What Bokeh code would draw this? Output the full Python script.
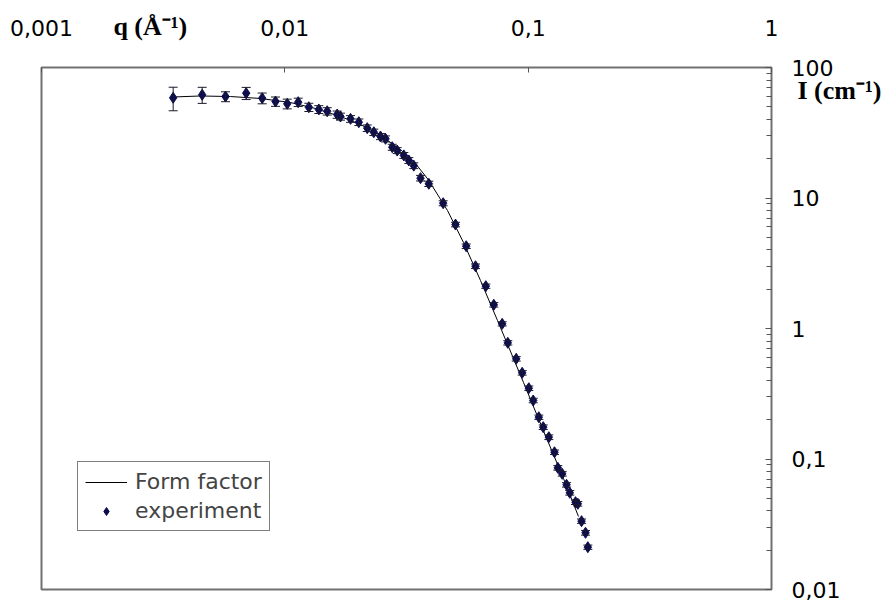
from bokeh.plotting import figure
from bokeh.models import (FixedTicker, CustomJSTickFormatter, Whisker, TeeHead,
                          ColumnDataSource, Legend, LegendItem, LogAxis)
from bokeh.embed import file_html
from bokeh.resources import INLINE

# ---- data ----
q_exp = [0.003476, 0.004574, 0.005704, 0.006938, 0.008072, 0.009156, 0.01023, 0.01135,
         0.01255, 0.01379, 0.01493, 0.01641, 0.01693, 0.01862, 0.02014, 0.02181, 0.02321,
         0.02472, 0.02593, 0.02763, 0.02896, 0.03083, 0.03232, 0.03388, 0.03611, 0.03906,
         0.04474, 0.05028, 0.05564, 0.06076, 0.06698, 0.07224, 0.07822, 0.08248, 0.08931,
         0.09451, 0.1006, 0.1049, 0.1106, 0.1153, 0.1216, 0.1283, 0.1324, 0.1380, 0.1438,
         0.1483, 0.1565, 0.1600, 0.1657, 0.1721, 0.1759]
I_exp = [58.6, 61.8, 59.9, 63.6, 58.2, 54.9, 52.7, 54.2, 49.6, 47.7, 46.2, 43.6, 42.1,
         40.4, 38.1, 34.3, 31.9, 29.6, 28.4, 24.5, 23.1, 21.2, 19.4, 17.7, 14.2, 12.85,
         9.12, 6.26, 4.27, 3.00, 2.11, 1.52, 1.086, 0.777, 0.586, 0.4575, 0.3486, 0.2807,
         0.2090, 0.1753, 0.1469, 0.1127, 0.0856, 0.0770, 0.0634, 0.0551, 0.0467, 0.0454,
         0.0334, 0.0272, 0.0211]
I_err = [12, 8.7, 5.2, 6.8, 5.5, 4.5, 4.5, 4.0, 3.6, 3.3, 3.0, 2.8, 2.6, 2.4, 2.2, 2.0,
         1.8, 1.6, 1.5, 1.3, 1.2, 1.1, 1.0, 0.9, 0.7, 0.6, 0.4, 0.25, 0.17, 0.12, 0.08,
         0.06, 0.04, 0.03, 0.023, 0.018, 0.014, 0.011, 0.008, 0.007, 0.006, 0.0045, 0.0034,
         0.003, 0.0025, 0.0022, 0.0019, 0.0018, 0.0013, 0.0011, 0.0008]

q_ff = [0.003455, 0.004500, 0.005979, 0.007943, 0.01055, 0.01337, 0.01693, 0.02046,
        0.02472, 0.02988, 0.03443, 0.03895, 0.04661, 0.05424, 0.06371, 0.07482, 0.09570,
        0.1201, 0.1397, 0.1610]
I_ff = [59.4, 60.5, 59.9, 57.9, 53.9, 48.5, 42.1, 36.6, 30.1, 23.5, 18.38, 13.74, 8.02,
        4.56, 2.33, 1.152, 0.3857, 0.1386, 0.0709, 0.03625]

x_ticks = [0.001, 0.01, 0.1, 1]
y_ticks = [0.01, 0.1, 1, 10, 100]
y_minor = [k * 10.0 ** e for e in (-2, -1, 0, 1) for k in range(2, 10)]

x_title = "q (Å⁻¹)"
y_title = "I (cm⁻¹)"

FONT = "DejaVu Sans"
MARK = "#0c0c52"

p = figure(x_axis_type="log", y_axis_type="log", x_range=(0.001, 1), y_range=(0.01, 100),
           frame_width=730, frame_height=522, min_border_left=41, min_border_right=120,
           min_border_top=67, min_border_bottom=12, x_axis_location="above",
           y_axis_location="right", output_backend="svg", toolbar_location=None)
p.grid.visible = False
p.outline_line_color = "#707070"
p.outline_line_width = 2
p.background_fill_color = "white"
p.border_fill_color = "white"

fmt = CustomJSTickFormatter(code="return tick.toString().replace('.', ',');")

xa = p.xaxis[0]
xa.ticker = FixedTicker(ticks=x_ticks, minor_ticks=[])
xa.formatter = fmt
xa.axis_line_color = None
xa.major_tick_in = 5
xa.major_tick_out = 0
xa.major_tick_line_color = "#555555"
xa.minor_tick_line_color = None
xa.major_label_standoff = 32
xa.major_label_text_font = FONT
xa.major_label_text_font_size = "22px"
xa.major_label_text_color = "black"

ya = p.yaxis[0]
ya.ticker = FixedTicker(ticks=y_ticks, minor_ticks=y_minor)
ya.formatter = fmt
ya.axis_line_color = None
ya.major_tick_in = 6
ya.major_tick_out = 0
ya.minor_tick_in = 5
ya.minor_tick_out = 0
ya.major_tick_line_color = "#555555"
ya.minor_tick_line_color = "#555555"
ya.major_label_standoff = 20
ya.major_label_text_font = FONT
ya.major_label_text_font_size = "22px"
ya.major_label_text_color = "black"

# axis titles: extra single-tick axes stacked outside the number axes
xt = LogAxis(ticker=FixedTicker(ticks=[0.0028], minor_ticks=[]),
             formatter=CustomJSTickFormatter(code="return '%s';" % x_title),
             axis_line_color=None, major_tick_in=0, major_tick_out=0,
             minor_tick_line_color=None, major_label_standoff=-24,
             major_label_text_font="Liberation Serif", major_label_text_font_style="bold",
             major_label_text_font_size="26px", major_label_text_color="black")
p.add_layout(xt, "above")

yt = LogAxis(ticker=FixedTicker(ticks=[66.7], minor_ticks=[]),
             formatter=CustomJSTickFormatter(code="return '%s';" % y_title),
             axis_line_color=None, major_tick_in=0, major_tick_out=0,
             minor_tick_line_color=None, major_label_standoff=-46,
             major_label_text_font="Liberation Serif", major_label_text_font_style="bold",
             major_label_text_font_size="26px", major_label_text_color="black")
p.add_layout(yt, "right")

src = ColumnDataSource(dict(q=q_exp, I=I_exp,
                            upper=[a + b for a, b in zip(I_exp, I_err)],
                            lower=[a - b for a, b in zip(I_exp, I_err)]))

lr = p.line(q_ff, I_ff, line_color="black", line_width=1)

w = Whisker(source=src, base="q", upper="upper", lower="lower", dimension="height",
            line_color="#1a1a2a", line_width=1,
            upper_head=TeeHead(size=9, line_color="#1a1a2a", line_width=1),
            lower_head=TeeHead(size=9, line_color="#1a1a2a", line_width=1))
w.level = "glyph"
p.add_layout(w)

sr = p.scatter("q", "I", source=src, marker="diamond", size=11,
               fill_color=MARK, line_color=MARK)

legend = Legend(items=[LegendItem(label="Form factor", renderers=[lr]),
                       LegendItem(label="experiment", renderers=[sr])],
                location=(36, 58), border_line_color="black", border_line_width=1,
                background_fill_color="white", background_fill_alpha=1,
                label_text_font=FONT, label_text_font_size="22px",
                glyph_width=42, glyph_height=20, label_standoff=8, padding=7,
                spacing=4, margin=0)
p.add_layout(legend)

open("out.html", "w").write(file_html(p, INLINE))
